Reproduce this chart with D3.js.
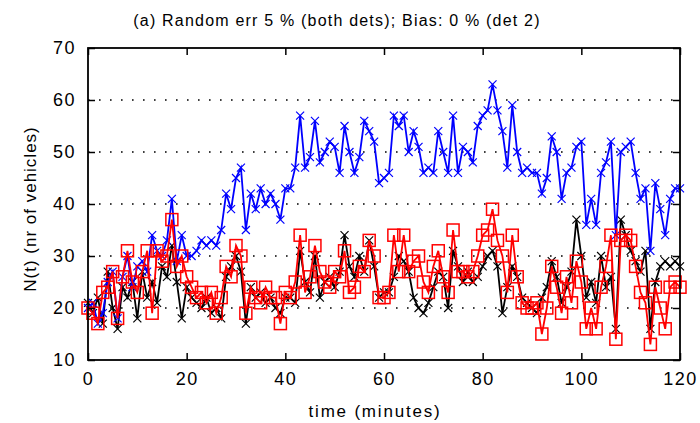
<!DOCTYPE html>
<html>
<head>
<meta charset="utf-8">
<script src="https://cdn.jsdelivr.net/npm/d3@7"></script>
<style>
  body { margin: 0; background: #fff; }
  svg text { font-family: "Liberation Sans", Arial, sans-serif; fill: #000; }
</style>
</head>
<body>
<svg id="chart" width="700" height="423"></svg>
<script>
// minutes 0..120, one value per minute
const time_min = d3.range(0, 121);
const det_blue = [20, 21, 17, 19, 25, 27, 18, 26, 30, 24, 28, 29, 27, 34, 31, 30, 33, 41, 29, 34, 30,
    30, 31, 33, 32, 33, 32, 35, 42, 39, 45, 47, 35, 42, 39, 43, 40, 42, 40, 37, 43,
    43, 47, 57, 47, 49, 56, 48, 50, 52, 51, 46, 55, 50, 46, 49, 56, 54, 52, 44, 45,
    46, 57, 55, 57, 50, 54, 51, 46, 47, 46, 54, 50, 46, 57, 46, 51, 50, 48, 55, 57,
    58, 63, 58, 54, 47, 59, 50, 46, 47, 46, 46, 42, 45, 53, 50, 41, 46, 47, 51, 52,
    36, 41, 36, 46, 48, 52, 34, 50, 51, 52, 46, 41, 43, 31, 44, 39, 34, 41, 43, 43];
const det_black = [21, 19, 22, 17, 27, 20, 16, 24, 22, 25, 18, 27, 22, 25, 21, 28, 26, 32, 25, 18, 24,
    22, 21, 20, 22, 19, 20, 18, 26, 28, 30, 27, 17, 24, 22, 23, 21, 22, 20, 19, 22,
    22, 21, 31, 25, 23, 30, 22, 25, 26, 24, 27, 34, 28, 26, 30, 27, 33, 28, 22, 23,
    23, 26, 30, 29, 27, 22, 20, 19, 21, 24, 27, 26, 20, 31, 28, 25, 27, 25, 26, 28,
    30, 31, 28, 19, 24, 28, 26, 22, 21, 20, 19, 22, 24, 29, 26, 21, 24, 27, 37, 30,
    22, 25, 21, 30, 24, 26, 16, 37, 34, 31, 29, 27, 31, 16, 25, 28, 29, 28, 29, 28];
const det_red = [20, 19, 17, 23, 24, 27, 18, 26, 31, 25, 23, 27, 31, 19, 31, 29, 30, 37, 28, 30, 26,
    24, 22, 23, 21, 23, 19, 22, 28, 26, 32, 30, 19, 24, 22, 21, 24, 22, 22, 17, 23,
    22, 25, 34, 23, 26, 32, 27, 25, 24, 27, 26, 31, 23, 24, 28, 27, 33, 30, 22, 22,
    23, 34, 27, 34, 27, 29, 30, 25, 23, 28, 31, 26, 23, 35, 27, 27, 26, 27, 30, 34,
    35, 39, 33, 30, 23, 34, 26, 21, 20, 20, 21, 15, 20, 28, 24, 19, 26, 21, 29, 25,
    16, 20, 16, 24, 28, 34, 14, 33, 34, 33, 28, 23, 21, 13, 24, 20, 16, 24, 25, 24];
const x_ticks = [0, 20, 40, 60, 80, 100, 120];
const y_ticks = [10, 20, 30, 40, 50, 60, 70];
const grid_vals = [20, 30, 40, 50, 60];
const title_text = "(a) Random err 5 % (both dets); Bias: 0 % (det 2)";
const x_label = "time (minutes)";
const y_label = "N(t) (nr of vehicles)";

const svg = d3.select('#chart');
const pLeft = 88, pRight = 680, pTop = 48, pBottom = 360;

const x = d3.scaleLinear().domain([0, 120]).range([pLeft, pRight]);
const y = d3.scaleLinear().domain([10, 70]).range([pBottom, pTop]);

// dotted grid
svg.append('g').selectAll('line').data(grid_vals).enter().append('line')
    .attr('x1', pLeft).attr('x2', pRight)
    .attr('y1', d => y(d)).attr('y2', d => y(d))
    .attr('stroke', '#000').attr('stroke-width', 1.6)
    .attr('stroke-dasharray', '1.6,9.4');

const lineFunction = d3.line()
    .x((d, i) => x(time_min[i]))
    .y(d => y(d));

function xMarks(g, data, color) {
    const s = 4;
    g.selectAll('path.m').data(data).enter().append('path')
        .attr('d', (d, i) => {
            const cx = x(time_min[i]), cy = y(d);
            return `M${cx - s},${cy - s}L${cx + s},${cy + s}M${cx - s},${cy + s}L${cx + s},${cy - s}`;
        })
        .attr('stroke', color).attr('stroke-width', 1.2).attr('fill', 'none');
}

function drawSeries(data, color, marker) {
    const g = svg.append('g');
    g.append('path')
        .attr('d', lineFunction(data))
        .attr('stroke', color)
        .attr('stroke-width', 1.8)
        .attr('fill', 'none');
    if (marker == 'x') {
        xMarks(g, data, color);
    } else {
        const h = 6;
        g.selectAll('rect').data(data).enter().append('rect')
            .attr('x', (d, i) => x(time_min[i]) - h)
            .attr('y', d => y(d) - h)
            .attr('width', 2 * h).attr('height', 2 * h)
            .attr('stroke', color).attr('stroke-width', 1.5).attr('fill', 'none');
    }
}

drawSeries(det_black, '#000', 'x');
drawSeries(det_blue, '#0000ff', 'x');
drawSeries(det_red, '#ff0000', 's');

// axes box with inward ticks
const xAxis = d3.axisBottom(x).tickValues(x_ticks).tickSize(-7).tickPadding(12);
const xTop = d3.axisTop(x).tickValues(x_ticks).tickSize(-7).tickFormat('');
const yAxis = d3.axisLeft(y).tickValues(y_ticks).tickSize(-7).tickPadding(12);
const yRight = d3.axisRight(y).tickValues(y_ticks).tickSize(-7).tickFormat('');

function styleAxis(g) {
    g.select('.domain').remove();
    g.selectAll('.tick line').attr('stroke', '#000').attr('stroke-width', 1.5);
    g.selectAll('text').style('font-size', '18px').style('letter-spacing', '1.5px').attr('fill', '#000');
}
svg.append('g').attr('transform', `translate(0,${pBottom})`).call(xAxis).call(styleAxis);
svg.append('g').attr('transform', `translate(0,${pTop})`).call(xTop).call(styleAxis);
svg.append('g').attr('transform', `translate(${pLeft},0)`).call(yAxis).call(styleAxis);
svg.append('g').attr('transform', `translate(${pRight},0)`).call(yRight).call(styleAxis);

svg.append('rect')
    .attr('x', pLeft).attr('y', pTop)
    .attr('width', pRight - pLeft).attr('height', pBottom - pTop)
    .attr('fill', 'none').attr('stroke', '#000').attr('stroke-width', 1.8);

// title and labels
svg.append('text').attr('x', 337).attr('y', 26)
    .attr('text-anchor', 'middle').style('font-size', '16px').style('letter-spacing', '1.2px')
    .text(title_text);
svg.append('text').attr('x', 375).attr('y', 417)
    .attr('text-anchor', 'middle').style('font-size', '17px').style('letter-spacing', '1.8px')
    .text(x_label);
svg.append('text')
    .attr('transform', `translate(36,209) rotate(-90)`)
    .attr('text-anchor', 'middle').style('font-size', '17px').style('letter-spacing', '1px')
    .text(y_label);
</script>
</body>
</html>
